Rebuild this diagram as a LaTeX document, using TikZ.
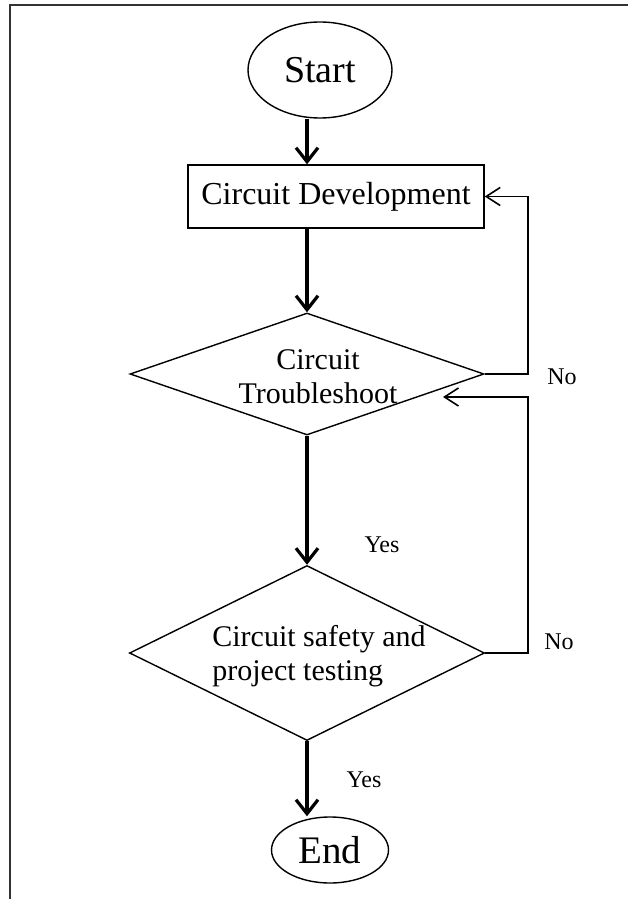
\documentclass[tikz,border=0pt]{standalone}
\usepackage{fontspec}
\setmainfont{Liberation Serif}
\usetikzlibrary{shapes.geometric,arrows.meta}

\begin{document}
\begin{tikzpicture}[x=0.5pt,y=-0.5pt,
  outline/.style={draw=black,line width=0.7pt,inner sep=0pt},
  terminal/.style={outline,ellipse},
  process/.style={outline,rectangle},
  decision/.style={outline,diamond},
  flow/.style={line width=1.6pt,-{Straight Barb[length=7pt,width=11pt]}},
  feedback/.style={line width=0.8pt,-{Straight Barb[length=7pt,width=9pt]}},
  answer/.style={font=\fontsize{12}{14}\selectfont},
  frameline/.style={draw=black!80,line width=1.2pt}]

  \useasboundingbox (0,0) rectangle (628,899);

  % page frame (open to the right and below)
  \draw[frameline] (10,899) -- (10,5) -- (628,5);

  % flowchart shapes
  \node[terminal,minimum width=72pt,minimum height=48pt,
        font=\fontsize{19}{22}\selectfont] (start) at (320,70) {Start};
  \node[process,minimum width=148pt,minimum height=31.5pt,
        font=\fontsize{16}{19}\selectfont] (dev) at (336,196.5) {Circuit Development};
  \node[decision,minimum width=177pt,minimum height=61pt] (d1) at (307,374) {};
  \node[align=center,font=\fontsize{15}{17}\selectfont] (d1t) at (318,377)
        {Circuit\\Troubleshoot};
  \node[decision,minimum width=177.5pt,minimum height=87.5pt] (d2) at (307,653) {};
  \node[align=left,font=\fontsize{15}{17}\selectfont] (d2t) at (319,656)
        {Circuit safety and\\project testing};
  \node[terminal,minimum width=58.5pt,minimum height=33pt,
        font=\fontsize{19.5}{22}\selectfont] (end) at (330,850) {End};

  % feedback rail and free arrow end
  \coordinate (rail) at (528,0);
  \coordinate (back) at (443,397);

  % main flow
  \draw[flow] (start.south -| d1.north) -- (dev.north -| d1.north);
  \draw[flow] (dev.south -| d1.north) -- (d1.north);
  \draw[flow] (d1.south) -- (d2.north);
  \draw[flow] (d2.south) -- (end.north -| d2.south);

  % loops back on failure
  \draw[feedback] (d1.east) -- (d1.east -| rail) |- (dev.east);
  \draw[feedback] (d2.east) -- (d2.east -| rail) |- (back);

  % branch labels
  \node[answer] (no1) at (562,377) {No};
  \node[answer] (no2) at (559,642) {No};
  \node[answer] (yes1) at (382,545) {Yes};
  \node[answer] (yes2) at (364,780) {Yes};
\end{tikzpicture}
\end{document}
